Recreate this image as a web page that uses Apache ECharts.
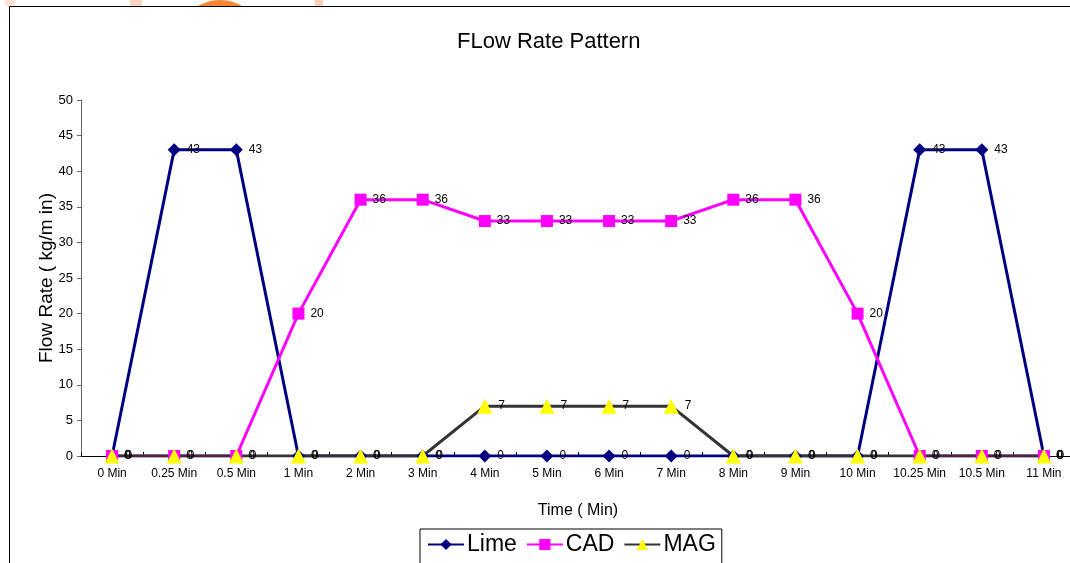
<!DOCTYPE html>
<html>
<head>
<meta charset="utf-8">
<script src="https://cdn.jsdelivr.net/npm/echarts@6/dist/echarts.min.js"></script>
<style>
  html, body { margin: 0; padding: 0; background: #fff; }
  #chart { width: 1070px; height: 563px; }
</style>
</head>
<body>
<div id="chart"></div>
<script>
// Time steps of the dosing cycle
const categories = ['0 Min', '0.25 Min', '0.5 Min', '1 Min', '2 Min', '3 Min', '4 Min', '5 Min',
  '6 Min', '7 Min', '8 Min', '9 Min', '10 Min', '10.25 Min', '10.5 Min', '11 Min'];

// Flow rates in kg/min
const lime = [0, 43, 43, 0, 0, 0, 0, 0, 0, 0, 0, 0, 0, 43, 43, 0];
const cad  = [0, 0, 0, 20, 36, 36, 33, 33, 33, 33, 36, 36, 20, 0, 0, 0];
const mag  = [0, 0, 0, 0, 0, 0, 7, 7, 7, 7, 0, 0, 0, 0, 0, 0];

const yTicks = { min: 0, max: 50, interval: 5 };

const FONT = '"Liberation Sans", Arial, sans-serif';

const labelStyle = {
  show: true,
  position: 'right',
  distance: 6,
  color: '#000',
  fontFamily: FONT,
  fontSize: 12
};

function lineSeries(name, data, color, lineColor, symbol, size) {
  return {
    name: name,
    type: 'line',
    data: data,
    symbol: symbol,
    symbolSize: size,
    showAllSymbol: true,
    lineStyle: { color: lineColor, width: 3 },
    itemStyle: { color: color, borderWidth: 0 },
    label: labelStyle,
    animation: false
  };
}

const chart = echarts.init(document.getElementById('chart'), null, { renderer: 'canvas' });

chart.setOption({
  backgroundColor: '#fff',
  animation: false,
  graphic: [
    // slide decoration peeking above the chart frame
    { type: 'rect', z: -10, shape: { x: 5, y: 0, width: 10, height: 6 }, style: { fill: '#fde3d6' } },
    { type: 'rect', z: -10, shape: { x: 130, y: 0, width: 12, height: 6 }, style: { fill: '#fbd5c2' } },
    { type: 'rect', z: -10, shape: { x: 315, y: 0, width: 8, height: 6 }, style: { fill: '#fbd0bb' } },
    { type: 'circle', z: -9, shape: { cx: 220, cy: 45, r: 45 }, style: { fill: '#f8873a' } },
    // chart frame
    { type: 'rect', z: -5, shape: { x: 9.5, y: 6.5, width: 1080, height: 600 },
      style: { fill: '#fff', stroke: '#000', lineWidth: 1 } }
  ],
  title: {
    text: 'FLow Rate Pattern',
    left: 452,
    top: 26,
    textStyle: { fontFamily: FONT, fontSize: 22, fontWeight: 'normal', color: '#000' }
  },
  legend: {
    data: ['Lime', 'CAD', 'MAG'],
    left: 420,
    top: 529,
    itemWidth: 36,
    itemHeight: 14,
    itemGap: 9,
    padding: [4, 6, 8, 7],
    borderColor: '#000',
    borderWidth: 1,
    backgroundColor: '#fff',
    textStyle: { fontFamily: FONT, fontSize: 23, color: '#000', padding: [0, 0, 0, -2] }
  },
  grid: { left: 81, top: 100, width: 994, bottom: 107, containLabel: false, outerBoundsMode: 'none' },
  xAxis: {
    type: 'category',
    data: categories,
    boundaryGap: true,
    name: 'Time ( Min)',
    nameLocation: 'middle',
    nameGap: 47,
    nameTextStyle: { fontFamily: FONT, fontSize: 16, color: '#000' },
    axisLine: { lineStyle: { color: '#000', width: 1 } },
    axisTick: { show: true, length: 4, inside: true, lineStyle: { color: '#000' } },
    axisLabel: { interval: 0, fontFamily: FONT, fontSize: 12, color: '#000', margin: 12 },
    splitLine: { show: false }
  },
  yAxis: {
    type: 'value',
    min: yTicks.min,
    max: yTicks.max,
    interval: yTicks.interval,
    name: 'Flow Rate ( kg/m in)',
    nameLocation: 'middle',
    nameGap: 25,
    nameMoveOverlap: false,
    nameTextStyle: { fontFamily: FONT, fontSize: 19, color: '#000' },
    axisLine: { show: true, lineStyle: { color: '#666', width: 1 } },
    axisTick: { show: true, length: 4, lineStyle: { color: '#666' } },
    axisLabel: { fontFamily: FONT, fontSize: 13, color: '#000', margin: 8 },
    splitLine: { show: false }
  },
  series: [
    lineSeries('Lime', lime, '#000080', '#000080', 'diamond', 13),
    lineSeries('CAD', cad, '#ff00ff', '#ff00ff', 'rect', 12),
    lineSeries('MAG', mag, '#ffff00', '#333333', 'triangle', 15)
  ]
});
</script>
</body>
</html>
